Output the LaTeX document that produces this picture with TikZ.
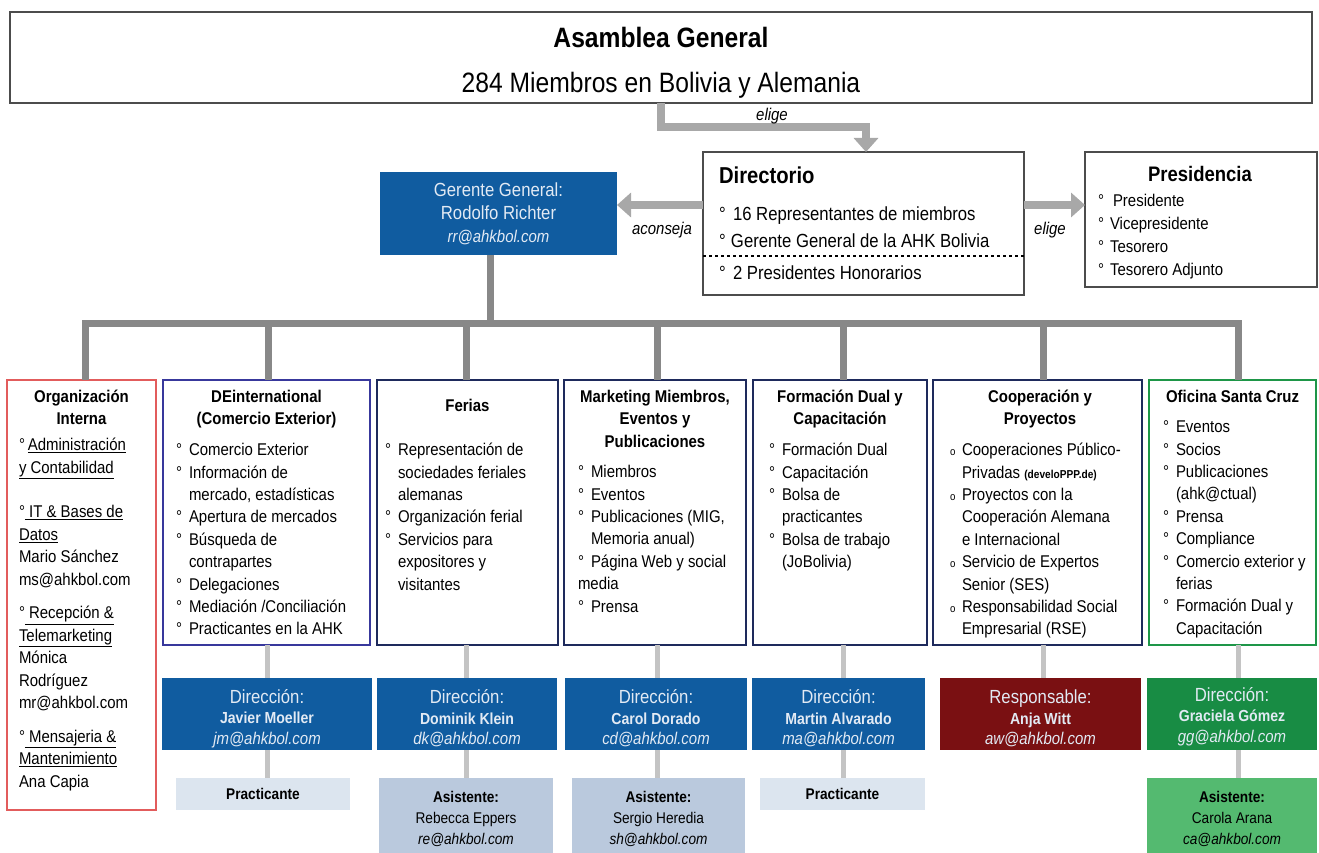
\documentclass[tikz,border=0pt]{standalone}
\usepackage{fontspec}
\setmainfont{Liberation Sans}[FakeStretch=0.88]
\usetikzlibrary{arrows.meta}
\definecolor{dblue}{RGB}{16,92,160}
\definecolor{dred}{RGB}{122,16,18}
\definecolor{dgreen}{RGB}{24,140,68}
\definecolor{lgreen}{RGB}{84,186,112}
\definecolor{pblue}{RGB}{220,229,239}
\definecolor{ablue}{RGB}{186,201,221}
\definecolor{bred}{RGB}{226,92,92}
\definecolor{bblue}{RGB}{56,56,156}
\definecolor{bnavy}{RGB}{30,42,92}
\definecolor{bgreen}{RGB}{30,150,72}
\definecolor{agray}{RGB}{168,168,168}
\definecolor{busgray}{RGB}{136,136,136}
\definecolor{cgray}{RGB}{196,196,196}
\definecolor{ltext}{RGB}{226,234,244}
\newcommand{\fbody}{\fontsize{17}{22.4}\selectfont}
\newcommand{\bul}{\makebox[13pt][l]{°}}
\newcommand{\cnt}{\hspace*{13pt}}
\newcommand{\bop}{\makebox[12pt][l]{\fontsize{11}{11}\selectfont o}}
\newcommand{\fdA}{\fontsize{19}{20.5}\selectfont}
\newcommand{\fdB}{\fontsize{16}{20.5}\selectfont\bfseries}
\newcommand{\fdC}{\fontsize{17}{20.5}\selectfont\itshape}
\newcommand{\up}[1]{\rule{0pt}{#1}}
\begin{document}
\begin{tikzpicture}[x=1pt,y=-1pt,
 every node/.style={inner sep=0pt,outer sep=0pt},
 frame/.style={draw=black!70,line width=1.4pt,fill=white},
 colbox/.style={draw=#1,line width=2.4pt,fill=white},
 fbox/.style={fill=#1,text=ltext,align=center,font=\fontsize{17}{20.5}\selectfont},
 lbox/.style={fill=#1,text=black,align=center,font=\fontsize{15.5}{21}\selectfont},
 garrow/.style={draw=agray,line width=8pt,-{Triangle[width=24pt,length=14pt]}},
 bus/.style={draw=busgray,line width=7pt},
 conn/.style={draw=cgray,line width=5pt},
 lst/.style={anchor=north west,align=left,font=\fbody},
 hd/.style={anchor=north,align=center,font=\fbody\bfseries},
 lab/.style={anchor=base,font=\fontsize{17}{20}\selectfont\itshape}]
\useasboundingbox (0,0) rectangle (1319,853);

% top
\node[frame,minimum width=1302pt,minimum height=91pt,align=center,font=\fontsize{28}{45}\selectfont] (top) at (661,57.5) {{\up{30.5pt}\bfseries Asamblea General}\\ 284 Miembros en Bolivia y Alemania};

% Directorio
\node[frame,minimum width=321pt,minimum height=143pt] (dir) at (863.5,223.5) {};
\node[anchor=base west,font=\fontsize{23}{27}\selectfont\bfseries] (dirt) at (719,184) {Directorio};
\node[anchor=north west,align=left,font=\fontsize{19}{27}\selectfont] (diri) at (719,202) {\strut\makebox[14pt][l]{°}16 Representantes de miembros\\ \makebox[12pt][l]{°}Gerente General de la AHK Bolivia};
\node[anchor=north west,align=left,font=\fontsize{19}{27}\selectfont] (dirh) at (719,261) {\strut\makebox[14pt][l]{°}2 Presidentes Honorarios};
\draw[dashed,line width=1.2pt] (dir.west |- 0,256) -- (dir.east |- 0,256);

% Presidencia
\node[frame,minimum width=232pt,minimum height=135pt] (pres) at (1201,219.5) {};
\node[anchor=base,font=\fontsize{21}{25}\selectfont\bfseries] (prest) at (1200,181.5) {Presidencia};
\node[anchor=north west,align=left,font=\fontsize{17}{23}\selectfont] (presi) at (1098,190.5) {\strut\makebox[15pt][l]{°}Presidente\\ \makebox[12pt][l]{°}Vicepresidente\\ \makebox[12pt][l]{°}Tesorero\\ \makebox[12pt][l]{°}Tesorero Adjunto};

% Gerente
\node[fbox=dblue,minimum width=237pt,minimum height=83pt,font=\fontsize{19}{23}\selectfont] (ger) at (498.5,213.5) {Gerente General:\\ Rodolfo Richter\\ {\fontsize{17}{23}\selectfont\itshape rr@ahkbol.com}};

% arrows
\draw[garrow] (top.south) -- ++(0,24) -| ([xshift=2.5pt]dir.north);
\node[lab] (l1) at (772,121) {elige};
\draw[garrow] (dir.west |- 0,205) -- (ger.east |- 0,205);
\node[lab] (l2) at (662,234) {aconseja};
\draw[garrow] (dir.east |- 0,205) -- (pres.west |- 0,205);
\node[lab] (l3) at (1050,234) {elige};

% columns
\node[colbox=bred,minimum width=149pt,minimum height=430pt] (c1) at (81.5,595) {};
\node[colbox=bblue,minimum width=207pt,minimum height=265pt] (c2) at (266.5,512.5) {};
\node[colbox=bnavy,minimum width=181pt,minimum height=265pt] (c3) at (467.5,512.5) {};
\node[colbox=bnavy,minimum width=182pt,minimum height=265pt] (c4) at (655,512.5) {};
\node[colbox=bnavy,minimum width=174pt,minimum height=265pt] (c5) at (840,512.5) {};
\node[colbox=bnavy,minimum width=209pt,minimum height=265pt] (c6) at (1037.5,512.5) {};
\node[colbox=bgreen,minimum width=167pt,minimum height=265pt] (c7) at (1232.5,512.5) {};

% bus
\draw[bus] ([xshift=-8.5pt]ger.south) -- ++(0,68);
\draw[bus,line cap=rect] (85,323) -- (1238,323);
\foreach \n/\x in {c1/85,c2/268,c3/466,c4/657,c5/843,c6/1043,c7/1238}
  \draw[bus] (\x,323) -- (\n.north -| \x,0);

% column texts
\node[hd] (h1) at (81.5,390) {Organización\\ Interna};
\node[lst] (t1) at (19,435) {\strut°\,\underline{Administración}\\ \underline{y Contabilidad}\\[22.4pt] °\underline{\ IT \& Bases de}\\ \underline{Datos}\\ Mario Sánchez\\ ms@ahkbol.com\\[11.5pt] °\underline{\ Recepción \&}\\ \underline{Telemarketing}\\ Mónica\\ Rodríguez\\ mr@ahkbol.com\\[11.5pt] °\underline{\ Mensajeria \&}\\ \underline{Mantenimiento}\\ Ana Capia};

\node[hd] (h2) at (266.5,390) {DEinternational\\ (Comercio Exterior)};
\node[lst] (t2) at (176,440) {\strut\bul Comercio Exterior\\ \bul Información de\\ \cnt mercado, estadísticas\\ \bul Apertura de mercados\\ \bul Búsqueda de\\ \cnt contrapartes\\ \bul Delegaciones\\ \bul Mediación /Conciliación\\ \bul Practicantes en la AHK};

\node[hd] (h3) at (467.5,399) {Ferias};
\node[lst] (t3) at (385,440) {\strut\bul Representación de\\ \cnt sociedades feriales\\ \cnt alemanas\\ \bul Organización ferial\\ \bul Servicios para\\ \cnt expositores y\\ \cnt visitantes};

\node[hd] (h4) at (655,390) {Marketing Miembros,\\ Eventos y\\ Publicaciones};
\node[lst] (t4) at (578,462) {\strut\bul Miembros\\ \bul Eventos\\ \bul Publicaciones (MIG,\\ \cnt Memoria anual)\\ \bul Página Web y social\\ media\\ \bul Prensa};

\node[hd] (h5) at (840,390) {Formación Dual y\\ Capacitación};
\node[lst] (t5) at (769,440) {\strut\bul Formación Dual\\ \bul Capacitación\\ \bul Bolsa de\\ \cnt practicantes\\ \bul Bolsa de trabajo\\ \cnt (JoBolivia)};

\node[hd] (h6) at (1040,390) {Cooperación y\\ Proyectos};
\node[lst] (t6) at (950,440) {\strut\bop Cooperaciones Público-\\ \hspace*{12pt}Privadas {\fontsize{11.5}{11.5}\selectfont\bfseries (develoPPP.de)}\\ \bop Proyectos con la\\ \hspace*{12pt}Cooperación Alemana\\ \hspace*{12pt}e Internacional\\ \bop Servicio de Expertos\\ \hspace*{12pt}Senior (SES)\\ \bop Responsabilidad Social\\ \hspace*{12pt}Empresarial (RSE)};

\node[hd] (h7) at (1232.5,390) {Oficina Santa Cruz};
\node[lst] (t7) at (1163,417) {\strut\bul Eventos\\ \bul Socios\\ \bul Publicaciones\\ \cnt (ahk@ctual)\\ \bul Prensa\\ \bul Compliance\\ \bul Comercio exterior y\\ \cnt ferias\\ \bul Formación Dual y\\ \cnt Capacitación};

% direction boxes
\node[fbox=dblue,minimum width=210pt,minimum height=72pt] (d2) at (267,714) {{\up{23pt}\fdA Dirección:}\\ {\fdB Javier Moeller}\\ {\fdC jm@ahkbol.com}};
\node[fbox=dblue,minimum width=180pt,minimum height=72pt] (d3) at (467,714) {{\up{23pt}\fdA Dirección:}\\ {\fdB Dominik Klein}\\ {\fdC dk@ahkbol.com}};
\node[fbox=dblue,minimum width=182pt,minimum height=72pt] (d4) at (656,714) {{\up{23pt}\fdA Dirección:}\\ {\fdB Carol Dorado}\\ {\fdC cd@ahkbol.com}};
\node[fbox=dblue,minimum width=173pt,minimum height=72pt] (d5) at (838.5,714) {{\up{23pt}\fdA Dirección:}\\ {\fdB Martin Alvarado}\\ {\fdC ma@ahkbol.com}};
\node[fbox=dred,minimum width=201pt,minimum height=72pt] (d6) at (1040.5,714) {{\up{23pt}\fdA Responsable:}\\ {\fdB Anja Witt}\\ {\fdC aw@ahkbol.com}};
\node[fbox=dgreen,minimum width=170pt,minimum height=72pt] (d7) at (1232,714) {{\up{19pt}\fdA Dirección:}\\ {\fdB Graciela Gómez}\\ {\fdC gg@ahkbol.com}};

\foreach \a/\b/\x in {c2/d2/267,c3/d3/466,c4/d4/657,c5/d5/843,c6/d6/1043,c7/d7/1238}
  \draw[conn] (\a.south -| \x,0) -- (\b.north -| \x,0);

% lower boxes
\node[lbox=pblue,minimum width=174pt,minimum height=32pt] (p2) at (263,794) {\bfseries Practicante};
\node[lbox=ablue,minimum width=174pt,minimum height=75pt] (a3) at (466,815.5) {{\up{17.5pt}\bfseries Asistente:}\\ Rebecca Eppers\\ {\itshape re@ahkbol.com}};
\node[lbox=ablue,minimum width=173pt,minimum height=75pt] (a4) at (658.5,815.5) {{\up{17.5pt}\bfseries Asistente:}\\ Sergio Heredia\\ {\itshape sh@ahkbol.com}};
\node[lbox=pblue,minimum width=165pt,minimum height=32pt] (p5) at (842.5,794) {\bfseries Practicante};
\node[lbox=lgreen,minimum width=170pt,minimum height=75pt] (a7) at (1232,815.5) {{\up{17.5pt}\bfseries Asistente:}\\ Carola Arana\\ {\itshape ca@ahkbol.com}};

\foreach \a/\b/\x in {d2/p2/267,d3/a3/466,d4/a4/657,d5/p5/843,d7/a7/1238}
  \draw[conn] (\a.south -| \x,0) -- (\b.north -| \x,0);
\end{tikzpicture}
\end{document}
